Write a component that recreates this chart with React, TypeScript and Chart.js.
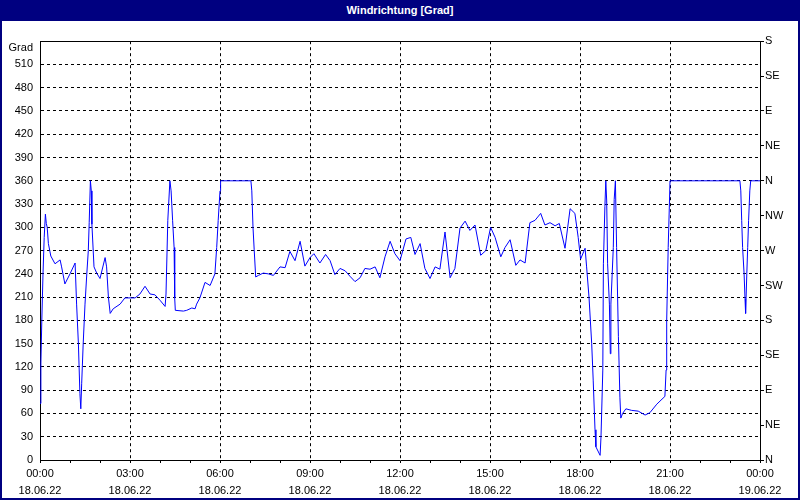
import React, { useEffect, useRef } from 'react';
import { Chart, registerables } from 'chart.js';

Chart.register(...registerables);

const TITLE = 'Windrichtung [Grad]';
const Y_UNIT = 'Grad';
const TIME_LABELS = ['00:00', '03:00', '06:00', '09:00', '12:00', '15:00', '18:00', '21:00', '00:00'];
const DATE_LABELS = ['18.06.22', '18.06.22', '18.06.22', '18.06.22', '18.06.22', '18.06.22', '18.06.22', '18.06.22', '19.06.22'];
const DIR_LABELS = ['N', 'NE', 'E', 'SE', 'S', 'SW', 'W', 'NW', 'N', 'NE', 'E', 'SE', 'S'];

// hours since 18.06.22 00:00
const HOURS = [
  0.00, 0.03, 0.06, 0.10, 0.14, 0.18, 0.21, 0.24, 0.28, 0.36, 0.50, 0.67, 0.72, 0.83, 1.00,
  1.17, 1.22, 1.28, 1.33, 1.36, 1.39, 1.44, 1.50, 1.56, 1.61, 1.64, 1.68, 1.71, 1.73, 1.80,
  1.89, 2.00, 2.17, 2.22, 2.28, 2.34, 2.44, 2.67, 2.83, 3.00, 3.17, 3.33, 3.50, 3.67, 3.83,
  4.00, 4.17, 4.20, 4.26, 4.33, 4.37, 4.42, 4.47, 4.49, 4.51, 4.78, 4.89, 5.06, 5.17, 5.22,
  5.33, 5.50, 5.67, 5.83, 5.89, 5.94, 6.00, 6.02, 7.03, 7.06, 7.10, 7.14, 7.19, 7.28, 7.44,
  7.61, 7.78, 8.00, 8.17, 8.33, 8.50, 8.67, 8.83, 9.00, 9.13, 9.33, 9.52, 9.67, 9.83, 10.00,
  10.17, 10.33, 10.50, 10.67, 10.83, 11.00, 11.17, 11.33, 11.50, 11.67, 11.83, 12.00, 12.20, 12.36, 12.50,
  12.67, 12.83, 13.00, 13.17, 13.33, 13.50, 13.67, 13.83, 14.00, 14.17, 14.33, 14.50, 14.69, 14.86, 15.02,
  15.17, 15.36, 15.50, 15.67, 15.86, 16.00, 16.17, 16.33, 16.50, 16.69, 16.83, 17.00, 17.17, 17.31, 17.50,
  17.67, 17.83, 17.94, 18.02, 18.17, 18.22, 18.30, 18.39, 18.44, 18.50, 18.53, 18.67, 18.70, 18.76, 18.78,
  18.83, 18.86, 18.89, 18.92, 18.98, 19.01, 19.03, 19.11, 19.14, 19.18, 19.22, 19.28, 19.33, 19.36, 19.42,
  19.53, 19.72, 19.94, 20.17, 20.33, 20.56, 20.83, 20.87, 20.89, 20.94, 20.98, 21.00, 23.33, 23.36, 23.39,
  23.42, 23.47, 23.50, 23.52, 23.56, 23.59, 23.62, 23.66, 23.69, 24.00,
];

// wind direction in degrees
const DEG = [
  73, 125, 180, 240, 287, 317, 305, 300, 279, 263, 253, 258, 249, 227, 240,
  254, 201, 150, 86, 66, 99, 150, 201, 240, 270, 306, 360, 347, 304, 249,
  241, 234, 261, 249, 210, 189, 195, 201, 209, 209, 209, 214, 224, 214, 213,
  206, 198, 214, 309, 360, 347, 309, 274, 209, 193, 192, 193, 196, 195, 201,
  209, 229, 225, 240, 274, 309, 347, 360, 360, 347, 300, 271, 236, 238, 241,
  240, 238, 249, 248, 269, 257, 282, 250, 261, 266, 254, 265, 257, 239, 247,
  244, 237, 230, 235, 247, 246, 249, 235, 262, 282, 266, 257, 285, 287, 265,
  279, 247, 234, 249, 246, 294, 235, 247, 299, 308, 296, 303, 264, 270, 300,
  287, 262, 274, 284, 251, 258, 254, 306, 309, 318, 303, 306, 302, 305, 273,
  324, 318, 287, 259, 273, 249, 210, 150, 103, 39, 17, 6, 30, 116, 253,
  327, 360, 334, 253, 201, 137, 201, 274, 336, 360, 274, 159, 81, 54, 60,
  66, 64, 63, 58, 61, 72, 82, 116, 180, 274, 330, 360, 360, 347, 309,
  274, 240, 208, 189, 240, 274, 309, 347, 360, 360,
];

const FONT_FAMILY = '"Liberation Sans Narrow", "Liberation Sans", Arial, sans-serif';

export default function App() {
  const ref = useRef<HTMLCanvasElement>(null);

  useEffect(() => {
    document.body.style.margin = '0';
    const tickFont = { family: FONT_FAMILY, size: 11 };
    const chart = new Chart(ref.current as HTMLCanvasElement, {
      type: 'line',
      data: {
        datasets: [
          {
            data: HOURS.map((h, i) => ({ x: h, y: DEG[i] })),
            borderColor: '#0000ff',
            borderWidth: 1,
            pointRadius: 0,
            tension: 0,
            fill: false,
            yAxisID: 'y',
          },
        ],
      },
      options: {
        animation: false,
        responsive: false,
        maintainAspectRatio: false,
        layout: { padding: { top: 19, left: 0, right: 0, bottom: 0 } },
        plugins: { legend: { display: false }, tooltip: { enabled: false } },
        scales: {
          x: {
            type: 'linear',
            min: 0,
            max: 24,
            ticks: {
              stepSize: 1,
              autoSkip: false,
              maxRotation: 0,
              color: '#000',
              padding: 2,
              font: { ...tickFont, lineHeight: 1.55 },
              callback: (v: any) => {
                const n = Number(v);
                return n % 3 === 0 ? [TIME_LABELS[n / 3], DATE_LABELS[n / 3]] : '';
              },
            },
            grid: {
              color: (c: any) => (c.tick && c.tick.value % 3 === 0 ? '#000' : 'rgba(0,0,0,0)'),
              tickColor: '#000',
              tickLength: 3,
              lineWidth: 1,
            },
            border: { color: '#000', width: 1, dash: [3, 3] },
            afterFit: (s: any) => {
              s.height = 38;
            },
          },
          y: {
            type: 'linear',
            position: 'left',
            min: 0,
            max: 540,
            ticks: {
              stepSize: 30,
              autoSkip: false,
              color: '#000',
              padding: 7,
              font: tickFont,
              callback: (v: any) => (Number(v) === 540 ? ['', Y_UNIT] : String(v)),
            },
            grid: { color: '#000', lineWidth: 1, drawTicks: false },
            border: {
              color: '#000',
              width: 1,
              dash: (c: any) => (c.tick && c.tick.value === 540 ? [] : [3, 3]),
            },
            afterFit: (s: any) => {
              s.width = 38;
            },
          },
          y2: {
            type: 'linear',
            position: 'right',
            min: 0,
            max: 540,
            ticks: {
              stepSize: 45,
              autoSkip: false,
              color: '#000',
              padding: 1,
              font: tickFont,
              callback: (v: any) => DIR_LABELS[Math.round(Number(v) / 45)],
            },
            grid: { drawOnChartArea: false, color: '#000', tickColor: '#000', tickLength: 4 },
            border: { color: '#000', width: 1 },
            afterFit: (s: any) => {
              s.width = 38;
            },
          },
        },
      },
    });
    return () => chart.destroy();
  }, []);

  return (
    <div style={{ position: 'relative', width: 800, height: 500, background: '#000080', overflow: 'hidden' }}>
      <div
        style={{
          position: 'absolute',
          left: 0,
          top: 0,
          width: 800,
          height: 21,
          lineHeight: '20px',
          color: '#fff',
          textAlign: 'center',
          fontFamily: FONT_FAMILY,
          fontSize: 11,
          fontWeight: 'bold',
        }}
      >
        {TITLE}
      </div>
      <div style={{ position: 'absolute', left: 2, top: 21, width: 796, height: 477, background: '#fff' }}>
        <canvas ref={ref} width={796} height={477} style={{ display: 'block' }} />
      </div>
    </div>
  );
}
